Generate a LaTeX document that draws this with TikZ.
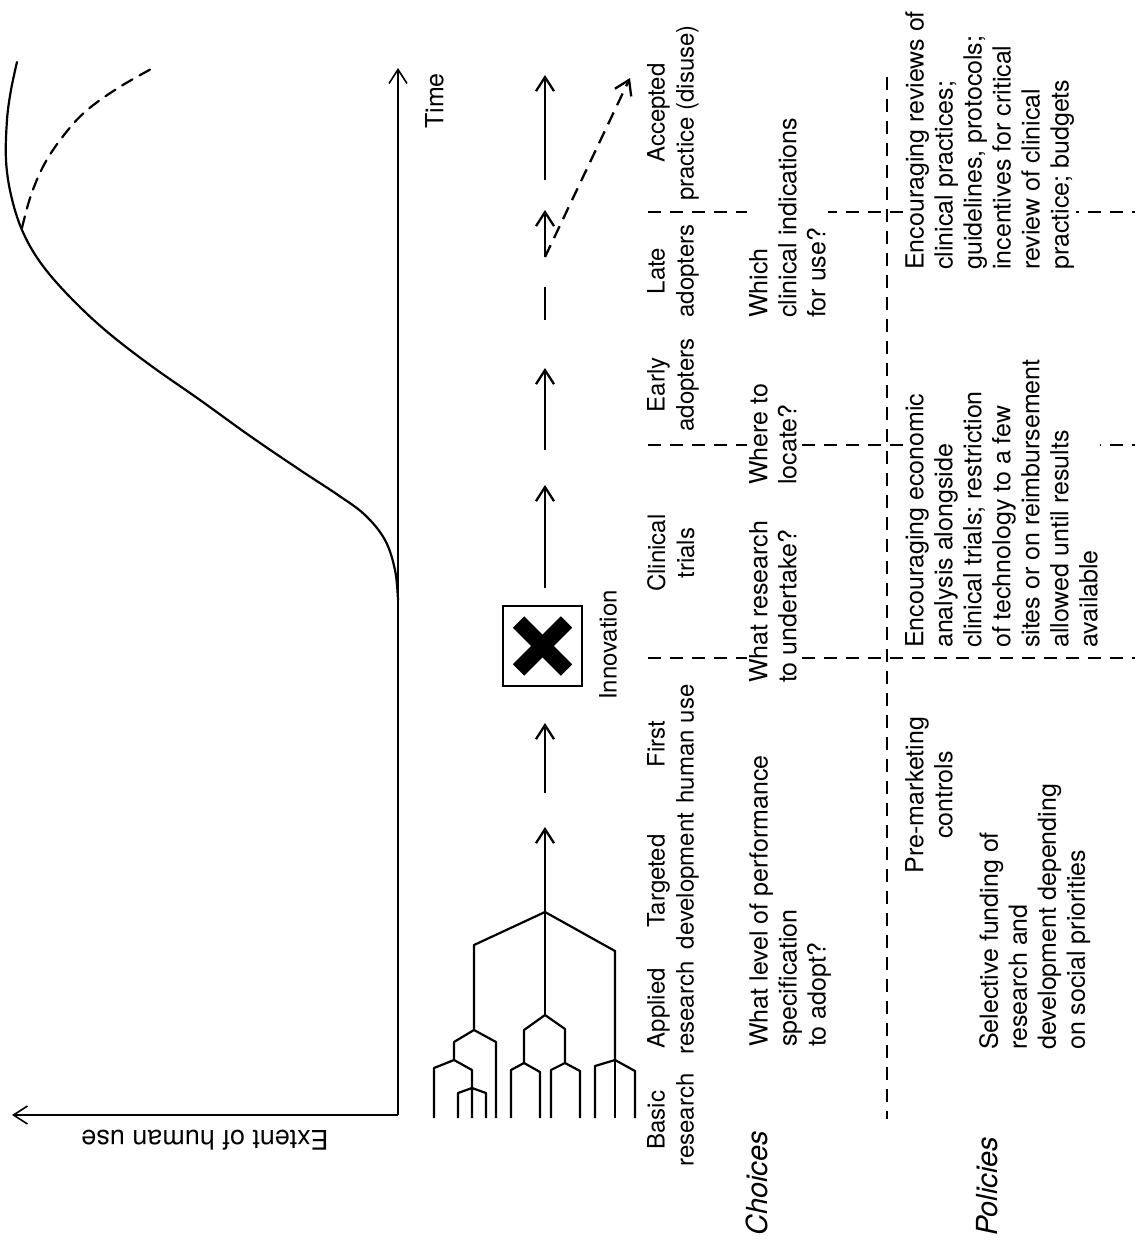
\documentclass[tikz,border=0pt]{standalone}
\usepackage{fontspec}
\setmainfont{TeX Gyre Heros}
\usetikzlibrary{arrows.meta}
\begin{document}
\begin{tikzpicture}[x=1pt,y=-1pt,
  txt/.style={font=\fontsize{25}{29}\selectfont, rotate=90, inner sep=2pt, fill=white},
  blk/.style={txt, anchor=north west, align=left},
  stage/.style={txt, font=\fontsize{24}{29}\selectfont, anchor=north, align=center},
  rowlab/.style={font=\fontsize{29}{34}\selectfont\itshape, rotate=90, anchor=north west, inner sep=2pt},
  sep/.style={line width=1.8pt, dash pattern=on 13pt off 9pt},
  flow/.style={line width=2.3pt},
  tip/.style={-{Straight Barb[length=14pt,width=18pt]}},
  axis/.style={line width=1.6pt},
  branch/.style={line width=2.2pt, line join=round},
  curve/.style={line width=2.2pt, line cap=round}
]
\useasboundingbox (0,0) rectangle (1135,1241);

% ---------- graph of human use over time ----------
\coordinate (O) at (398,1115);
\coordinate (timeEnd) at (398,68);
\coordinate (useEnd) at (12,1115);
\draw[axis,tip] (O) -- (timeEnd);
\draw[axis,tip] (O) -- (useEnd);
\node[font=\fontsize{27}{32}\selectfont, rotate=180, inner sep=0] (extent) at (205,1140) {Extent of human use};
\node[txt, anchor=north, fill=none] (time) at (423,101) {Time};

\draw[curve] plot[smooth, tension=0.6] coordinates {(398,600) (395,570) (385,540) (365,515) (338,495) (300,470) (250,436) (200,400) (150,365) (105,330) (68,295) (40,262) (22,230) (11,195) (6,160) (7,120) (11,90) (17,62)};
\draw[curve, dash pattern=on 12pt off 8pt] plot[smooth, tension=0.6] coordinates {(22,228) (31,195) (45,163) (64,135) (86,111) (118,88) (153,68)};

% ---------- grid of stages ----------
\coordinate (h1a) at (648,212); \coordinate (h1b) at (1135,212);
\coordinate (h2a) at (648,445); \coordinate (h2b) at (1135,445);
\coordinate (h3a) at (648,658); \coordinate (h3b) at (1135,658);
\coordinate (va) at (887,77);   \coordinate (vb) at (887,1119);
\draw[sep] (h1a) -- (h1b);
\draw[sep] (h2a) -- (h2b);
\draw[sep] (h3a) -- (h3b);
\draw[sep] (va) -- (vb);

% ---------- research tree ----------
\coordinate (base) at (0,1118);
\coordinate (root) at (545,912);
\coordinate (bl) at (474,945);  \coordinate (nl) at (474,1030);
\coordinate (nm) at (545,1015);
\coordinate (br) at (615,951);  \coordinate (nr) at (615,1060);
\draw[branch] (nl) -- (bl) -- (root) -- (br) -- (nr);
\draw[branch] (root) -- (nm);

\coordinate (l1) at (454,1042); \coordinate (l2) at (496,1042);
\coordinate (l1n) at (454,1060);
\draw[branch] (l1n) -- (l1) -- (nl) -- (l2) -- (l2 |- base);
\coordinate (l11) at (434,1068); \coordinate (l12) at (472,1070);
\draw[branch] (l11 |- base) -- (l11) -- (l1n) -- (l12) -- (l12 |- base);
\coordinate (l12n) at (472,1088);
\coordinate (l121) at (458,1093); \coordinate (l122) at (486,1093);
\draw[branch] (l121 |- base) -- (l121) -- (l12n) -- (l122) -- (l122 |- base);

\coordinate (m1) at (524,1030);  \coordinate (m2) at (565,1029);
\coordinate (m1n) at (524,1063); \coordinate (m2n) at (565,1063);
\draw[branch] (m1n) -- (m1) -- (nm) -- (m2) -- (m2n);
\coordinate (m11) at (511,1070); \coordinate (m12) at (540,1072);
\draw[branch] (m11 |- base) -- (m11) -- (m1n) -- (m12) -- (m12 |- base);
\coordinate (m21) at (551,1070); \coordinate (m22) at (580,1071);
\draw[branch] (m21 |- base) -- (m21) -- (m2n) -- (m22) -- (m22 |- base);

\coordinate (r1) at (595,1066); \coordinate (r2) at (635,1071);
\draw[branch] (r1 |- base) -- (r1) -- (nr) -- (r2) -- (r2 |- base);
\draw[branch] (nr) -- (nr |- base);

% ---------- development path ----------
\coordinate (tA) at (545,827);
\coordinate (a2s) at (545,793); \coordinate (a2e) at (545,723);
\coordinate (a3s) at (545,588); \coordinate (a3e) at (545,485);
\coordinate (a4s) at (545,450); \coordinate (a4e) at (545,368);
\coordinate (s5s) at (545,320); \coordinate (s5e) at (545,287);
\coordinate (a6s) at (545,257); \coordinate (a6e) at (545,210);
\coordinate (a7s) at (545,180); \coordinate (a7e) at (545,75);
\coordinate (dTip) at (630,78);

\draw[flow,tip] (root) -- (tA);
\draw[flow,tip] (a2s) -- (a2e);
\node[draw, line width=2.4pt, minimum width=79pt, minimum height=80pt, inner sep=0] (innov) at (542.5,646) {};
\draw[line width=16pt] ([shift={(-24,-24)}]innov.center) -- ([shift={(24,24)}]innov.center);
\draw[line width=16pt] ([shift={(24,-24)}]innov.center) -- ([shift={(-24,24)}]innov.center);
\draw[flow,tip] (a3s) -- (a3e);
\draw[flow,tip] (a4s) -- (a4e);
\draw[flow] (s5s) -- (s5e);
\draw[flow,tip] (a6s) -- (a6e);
\draw[flow,tip] (a7s) -- (a7e);
\draw[flow,tip,dash pattern=on 13pt off 8pt] (a6s) -- (dTip);
\node[stage, fill=none] (innovLab) at (597,645) {Innovation};

% ---------- stage names ----------
\node[stage] (sBasic)    at (645,1120) {Basic\\research};
\node[stage] (sApplied)  at (645,1008) {Applied\\research};
\node[stage] (sTarget)   at (645,881)  {Targeted\\development};
\node[stage] (sFirst)    at (645,744)  {First\\human use};
\node[stage] (sClinical) at (645,553)  {Clinical\\trials};
\node[stage] (sEarly)    at (645,385)  {Early\\adopters};
\node[stage] (sLate)     at (645,271)  {Late\\adopters};
\node[stage] (sAccepted) at (645,113)  {Accepted\\practice (disuse)};

% ---------- choices ----------
\node[rowlab] (choices) at (744,1238) {Choices};
\node[blk] (cLevel)    at (747,1049) {What level of performance\\specification\\to adopt?};
\node[blk] (cResearch) at (747,685)  {What research\\to undertake?};
\node[blk] (cLocate)   at (747,487)  {Where to\\locate?};
\node[blk] (cWhich)    at (747,320)  {Which\\clinical indications\\for use?};

% ---------- policies ----------
\node[rowlab] (policies) at (974,1238) {Policies};
\node[txt, anchor=north, align=center] (pPre) at (903,795) {Pre-marketing\\controls};
\node[blk] (pFund)   at (977,1052) {Selective funding of\\research and\\development depending\\on social priorities};
\node[blk] (pEcon)   at (903,650) {Encouraging economic\\analysis alongside\\clinical trials; restriction\\of technology to a few\\sites or on reimbursement\\allowed until results\\available};
\node[blk] (pReview) at (903,272) {Encouraging reviews of\\clinical practices;\\guidelines, protocols;\\incentives for critical\\review of clinical\\practice; budgets};
\end{tikzpicture}
\end{document}
